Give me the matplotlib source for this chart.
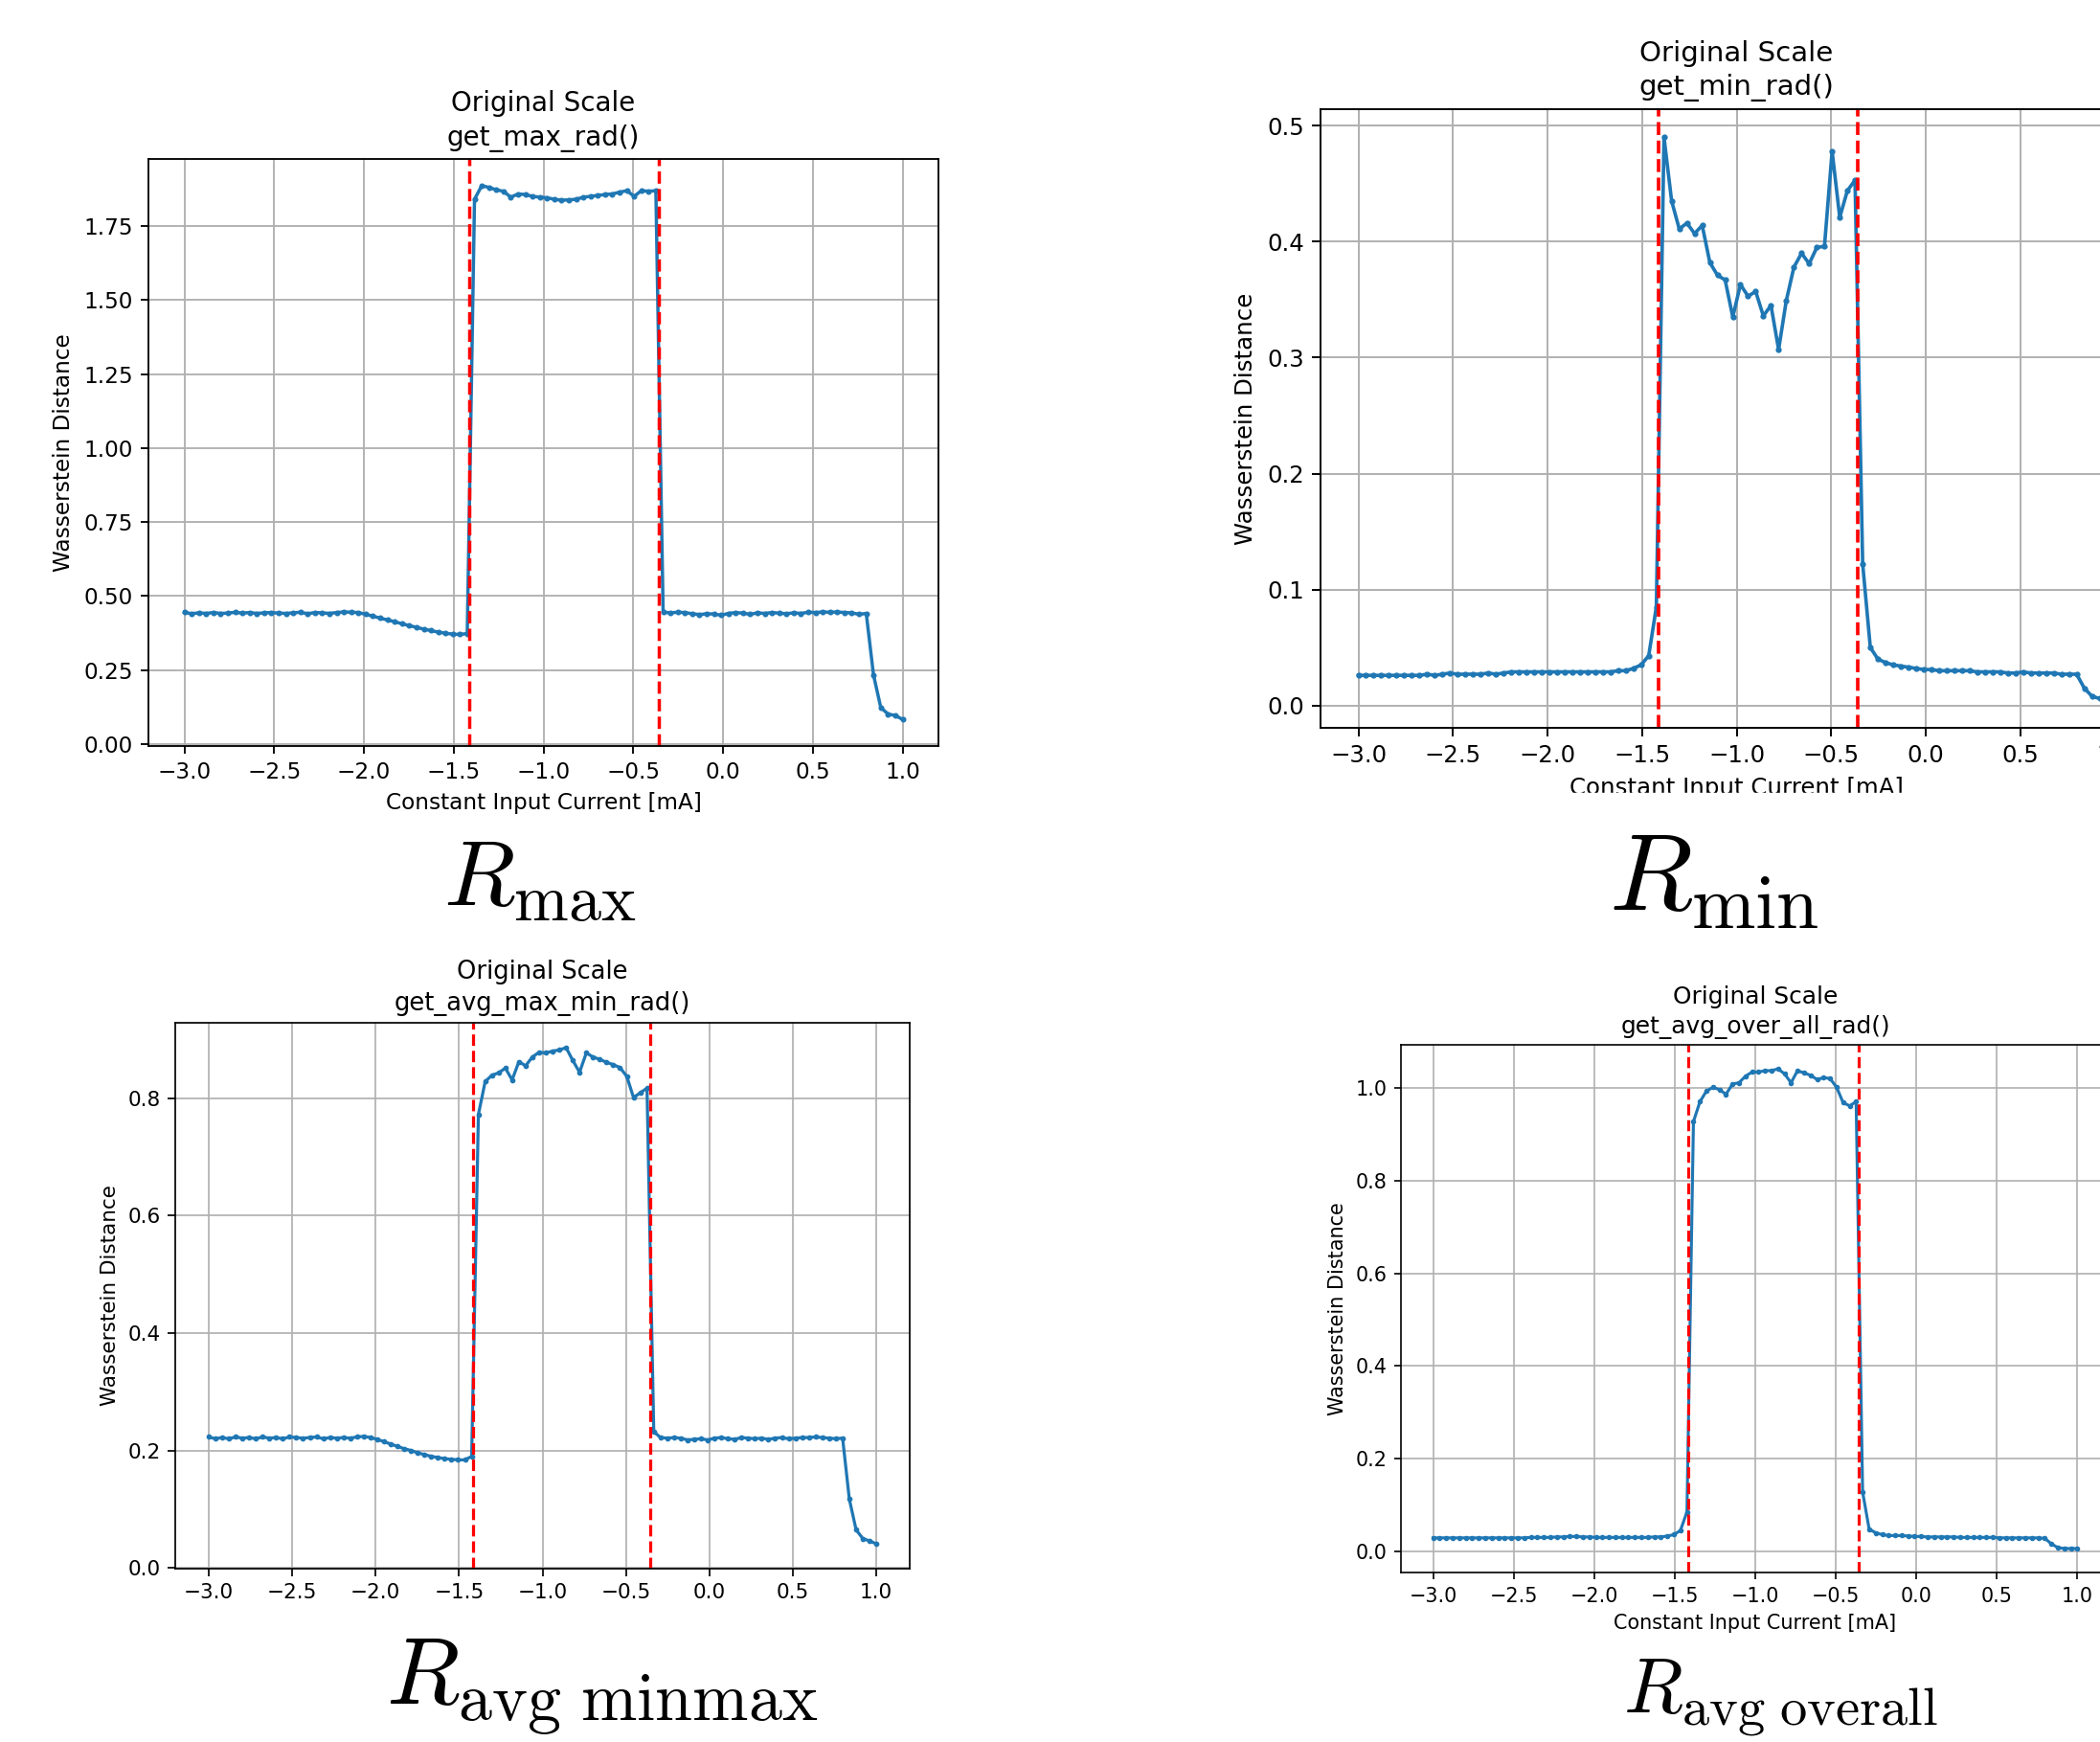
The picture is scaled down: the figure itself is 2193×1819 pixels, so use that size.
import numpy as np
import matplotlib
matplotlib.use('Agg')
import matplotlib.pyplot as plt
from matplotlib.patches import Rectangle

plt.rcParams['mathtext.fontset'] = 'cm'

# input current grid (100 samples from -3 to 1 mA)
current = np.linspace(-3.0, 1.0, 100)
thresholds = [-1.415, -0.357]

r_max = [0.445, 0.440, 0.443, 0.441, 0.444, 0.441, 0.442, 0.445, 0.442, 0.444,
         0.441, 0.443, 0.444, 0.442, 0.441, 0.443, 0.445, 0.440, 0.444, 0.443,
         0.441, 0.444, 0.446, 0.445, 0.444, 0.438, 0.432, 0.425, 0.419, 0.413,
         0.406, 0.400, 0.394, 0.388, 0.383, 0.378, 0.374, 0.371, 0.370, 0.373,
         1.841, 1.887, 1.881, 1.873, 1.868, 1.848, 1.859, 1.857, 1.851, 1.848,
         1.846, 1.841, 1.838, 1.839, 1.841, 1.848, 1.851, 1.854, 1.857, 1.859,
         1.865, 1.870, 1.851, 1.870, 1.868, 1.870, 0.445, 0.443, 0.445, 0.444,
         0.440, 0.437, 0.440, 0.439, 0.435, 0.441, 0.444, 0.442, 0.438, 0.443,
         0.441, 0.444, 0.442, 0.440, 0.443, 0.441, 0.445, 0.444, 0.446, 0.445,
         0.446, 0.444, 0.443, 0.438, 0.441, 0.233, 0.123, 0.101, 0.096, 0.083]

r_min = [0.026, 0.026, 0.026, 0.026, 0.026, 0.026, 0.026, 0.026, 0.026, 0.027,
         0.026, 0.027, 0.028, 0.027, 0.027, 0.027, 0.027, 0.028, 0.027, 0.028,
         0.029, 0.029, 0.029, 0.029, 0.029, 0.029, 0.029, 0.029, 0.029, 0.029,
         0.029, 0.029, 0.029, 0.029, 0.030, 0.030, 0.032, 0.035, 0.043, 0.085,
         0.490, 0.435, 0.411, 0.416, 0.407, 0.414, 0.382, 0.371, 0.367, 0.335,
         0.363, 0.353, 0.357, 0.336, 0.345, 0.307, 0.349, 0.378, 0.390, 0.381,
         0.395, 0.396, 0.478, 0.421, 0.444, 0.453, 0.122, 0.050, 0.040, 0.037,
         0.035, 0.034, 0.033, 0.032, 0.031, 0.031, 0.030, 0.030, 0.030, 0.030,
         0.030, 0.029, 0.029, 0.029, 0.029, 0.028, 0.028, 0.029, 0.028, 0.028,
         0.028, 0.028, 0.027, 0.027, 0.027, 0.015, 0.008, 0.006, 0.005, 0.005]

r_avg_minmax = [0.223, 0.220, 0.222, 0.220, 0.223, 0.221, 0.222, 0.220, 0.223, 0.221,
                0.222, 0.220, 0.223, 0.222, 0.221, 0.222, 0.223, 0.220, 0.222, 0.221,
                0.222, 0.221, 0.223, 0.224, 0.222, 0.219, 0.215, 0.211, 0.207, 0.203,
                0.200, 0.196, 0.193, 0.190, 0.188, 0.186, 0.185, 0.184, 0.184, 0.190,
                0.772, 0.828, 0.839, 0.843, 0.851, 0.831, 0.862, 0.855, 0.870, 0.878,
                0.877, 0.880, 0.882, 0.886, 0.864, 0.844, 0.877, 0.870, 0.866, 0.861,
                0.857, 0.852, 0.837, 0.801, 0.809, 0.817, 0.232, 0.222, 0.221, 0.222,
                0.221, 0.218, 0.219, 0.220, 0.218, 0.221, 0.222, 0.220, 0.219, 0.222,
                0.221, 0.220, 0.221, 0.219, 0.221, 0.222, 0.220, 0.221, 0.222, 0.222,
                0.223, 0.222, 0.221, 0.220, 0.221, 0.117, 0.065, 0.050, 0.046, 0.041]

r_avg_overall = [0.029, 0.029, 0.029, 0.029, 0.029, 0.029, 0.029, 0.029, 0.029, 0.029,
                 0.029, 0.029, 0.029, 0.029, 0.029, 0.030, 0.030, 0.030, 0.030, 0.031,
                 0.031, 0.032, 0.032, 0.031, 0.031, 0.030, 0.030, 0.030, 0.030, 0.030,
                 0.030, 0.030, 0.030, 0.030, 0.031, 0.031, 0.033, 0.036, 0.045, 0.085,
                 0.928, 0.971, 0.994, 1.002, 0.997, 0.987, 1.009, 1.012, 1.026, 1.035,
                 1.035, 1.038, 1.038, 1.042, 1.031, 1.012, 1.038, 1.033, 1.028, 1.019,
                 1.023, 1.021, 1.002, 0.969, 0.962, 0.971, 0.128, 0.048, 0.040, 0.036,
                 0.034, 0.034, 0.034, 0.033, 0.032, 0.032, 0.031, 0.031, 0.031, 0.031,
                 0.031, 0.030, 0.030, 0.030, 0.030, 0.030, 0.030, 0.029, 0.029, 0.029,
                 0.029, 0.029, 0.029, 0.029, 0.028, 0.016, 0.008, 0.006, 0.006, 0.006]

titles = ['get_max_rad()', 'get_min_rad()', 'get_avg_max_min_rad()', 'get_avg_over_all_rad()']
captions = [r'$R_{\max}$', r'$R_{\min}$', r'$R_{\mathrm{avg\ minmax}}$', r'$R_{\mathrm{avg\ overall}}$']

W, H = 2193, 1819
fig = plt.figure(figsize=(W / 100, H / 100), dpi=100)


def panel(left, top, right, bottom, y, title, show_xlabel=True):
    # pixel box -> figure fraction, fonts scaled to a default 6.4x4.8 figure
    rect = [left / W, 1 - bottom / H, (right - left) / W, (bottom - top) / H]
    s = (right - left) / 496.0
    ax = fig.add_axes(rect)
    ax.plot(current, y, marker='o', markersize=2 * s, linewidth=1.5 * s, color='#1f77b4')
    for t in thresholds:
        ax.axvline(t, color='red', linestyle='--', linewidth=1.5 * s)
    ax.grid(True, linewidth=0.8 * s, color='#b0b0b0')
    ax.set_axisbelow(True)
    ax.set_title('Original Scale\n' + title, fontsize=12 * s, pad=6 * s, linespacing=1.35)
    ax.set_ylabel('Wasserstein Distance', fontsize=10 * s, labelpad=4 * s)
    if show_xlabel:
        ax.set_xlabel('Constant Input Current [mA]', fontsize=10 * s, labelpad=4 * s)
    ax.tick_params(labelsize=10 * s, width=0.8 * s, length=3.5 * s, pad=3.5 * s)
    for sp in ax.spines.values():
        sp.set_linewidth(0.8 * s)
    return ax


panel(155, 166, 980, 779, r_max, titles[0])
panel(1379, 114, 2248, 760, r_min, titles[1])
panel(183, 1068, 950, 1638, r_avg_minmax, titles[2], show_xlabel=False)
panel(1463, 1091, 2203, 1642, r_avg_overall, titles[3])

# the source image crops the lower half of the R_min axis label
fig.add_artist(Rectangle((1370 / W, 1 - 870 / H), (W - 1370) / W, 42 / H,
                         transform=fig.transFigure, color='white', zorder=10))

fig.text(564 / W, 1 - 945 / H, captions[0], fontsize=70, ha='center', va='baseline')
fig.text(1790 / W, 1 - 951 / H, captions[1], fontsize=82, ha='center', va='baseline')
fig.text(629 / W, 1 - 1780 / H, captions[2], fontsize=72, ha='center', va='baseline')
fig.text(1860 / W, 1 - 1788 / H, captions[3], fontsize=58, ha='center', va='baseline')

fig.savefig('out.png', dpi=100)
